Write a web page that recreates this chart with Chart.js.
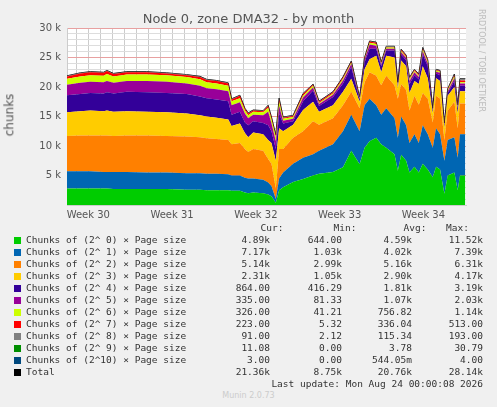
<!DOCTYPE html>
<html><head><meta charset="utf-8">
<script src="https://cdn.jsdelivr.net/npm/chart.js@4"></script>
<style>
body{margin:0;background:#f0f0f0;width:497px;height:407px;overflow:hidden;position:relative;font-family:"DejaVu Sans",sans-serif}
#c{position:absolute;left:0;top:0}
.t{position:absolute;color:#555}
.leg{position:absolute;font-family:"DejaVu Sans Mono",monospace;font-size:9.5px;color:#333;white-space:pre;line-height:12px}
.sq{position:absolute;width:7px;height:7px}
</style></head><body>
<canvas id="c" width="497" height="230"></canvas>
<div class="t" style="left:0;width:497px;top:11px;text-align:center;font-size:13px;color:#555">Node 0, zone DMA32 - by month</div>
<div class="t" style="left:-12px;top:108px;font-size:12px;transform:rotate(-90deg);">chunks</div>
<div class="t" style="left:430px;top:56px;font-size:8px;color:#bbb;transform:rotate(90deg);transform-origin:50% 50%;white-space:nowrap">RRDTOOL / TOBI OETIKER</div>
<div class="t" style="left:0;width:497px;top:391px;text-align:center;font-size:8px;color:#ccc">Munin 2.0.73</div>
<div id="legend"></div>
<script>
const times=[200,240,270,310,320,340,380,440,500,560,600,620,650,685,695,720,735,745,760,790,805,815,828,838,850,880,910,940,958,1000,1030,1055,1080,1095,1110,1130,1145,1160,1185,1195,1205,1220,1230,1245,1258,1270,1285,1300,1310,1322,1335,1345,1365,1375,1382,1398];
const s0=[2.8,2.8,2.8,2.8,2.8,2.7,2.7,2.7,2.7,2.6,2.6,2.5,2.5,2.5,2.4,2.4,2.1,2.0,2.1,2.0,1.8,1.5,0.4,2.5,3.0,3.9,4.4,5.0,5.3,5.6,6.4,9.2,6.9,9.7,10.8,11.4,10.3,9.7,8.6,5.8,8.5,7.5,5.5,6.5,5.5,7.0,6.0,4.7,6.5,6.0,1.9,5.0,5.5,2.5,5.0,5.0];
const s1=[2.9,2.9,2.9,2.8,2.8,2.9,2.9,2.8,2.8,2.8,2.8,2.8,2.8,2.7,2.6,2.6,2.5,2.5,2.4,2.3,2.0,1.7,0.6,2.0,2.5,3.1,3.6,3.6,3.9,4.7,6.1,6.1,5.6,7.2,7.2,5.5,5.0,6.7,6.1,5.6,6.5,6.0,5.0,5.5,5.0,6.5,6.0,5.0,6.5,6.0,5.6,6.0,6.0,5.5,7.0,7.0];
const s2=[6.0,6.1,6.1,6.2,6.2,6.1,6.2,6.3,6.2,6.2,6.1,6.0,5.9,5.8,5.3,5.5,4.9,4.5,5.0,4.9,4.0,3.8,1.8,5.0,4.0,4.4,4.5,5.6,4.4,4.4,4.4,3.9,3.9,3.9,4.5,5.0,5.0,5.5,5.6,6.6,5.5,6.0,5.5,6.5,6.5,5.5,6.0,4.3,5.5,6.0,3.5,5.0,6.0,5.0,5.2,5.2];
const s3=[4.0,4.1,4.2,4.1,4.2,4.1,4.1,4.0,4.0,3.9,3.7,3.7,3.6,3.5,3.1,3.3,2.7,2.5,2.8,2.8,3.2,3.5,4.7,3.5,3.0,2.2,3.6,3.3,2.2,2.2,2.3,2.2,1.1,2.2,2.2,3.4,2.2,3.4,4.7,1.7,4.0,4.0,3.0,2.5,3.5,4.5,3.5,1.5,3.0,3.0,2.0,2.5,2.5,2.5,2.1,2.1];
const s4=[2.9,2.9,3.0,3.0,3.1,3.1,3.3,3.3,3.3,3.3,3.2,3.1,3.1,3.1,1.9,2.0,1.8,2.0,1.9,1.9,2.5,2.0,2.0,2.5,1.3,0.6,1.5,1.9,1.0,1.4,1.4,2.0,0.4,1.2,1.8,1.2,1.0,0.9,1.2,0.6,1.0,1.0,1.5,1.0,0.8,2.0,2.0,0.5,0.8,1.0,0.5,0.5,1.0,0.8,0.9,0.9];
const s5=[1.8,1.9,1.9,1.9,1.9,1.8,1.8,1.9,1.9,1.8,1.8,1.7,1.7,1.7,1.6,1.6,1.5,1.2,1.1,1.3,2.3,1.3,1.3,1.3,0.5,0.4,0.6,0.5,0.3,0.4,0.5,0.5,0.1,0.4,0.7,0.5,0.3,0.3,0.3,0.2,0.4,0.4,0.5,0.5,0.4,0.5,0.5,0.2,0.3,0.4,0.2,0.3,0.5,0.3,0.4,0.4];
const s6=[1.0,1.1,1.1,1.1,1.2,1.1,1.1,1.1,1.1,1.1,1.1,1.0,1.0,0.9,0.7,0.7,0.5,0.5,0.5,0.5,0.7,0.7,0.7,0.7,0.3,0.3,0.3,0.3,0.2,0.2,0.3,0.2,0.1,0.2,0.3,0.3,0.2,0.2,0.2,0.1,0.2,0.2,0.3,0.2,0.2,0.3,0.3,0.1,0.2,0.2,0.1,0.2,0.3,0.2,0.2,0.2];
const s7=[0.4,0.5,0.5,0.5,0.5,0.4,0.4,0.4,0.3,0.3,0.4,0.4,0.4,0.4,0.3,0.4,0.3,0.3,0.2,0.2,0.3,0.3,0.3,0.4,0.2,0.2,0.3,0.2,0.2,0.2,0.2,0.2,0.1,0.1,0.2,0.2,0.1,0.1,0.1,0.1,0.2,0.2,0.2,0.2,0.2,0.2,0.2,0.1,0.1,0.1,0.1,0.1,0.2,0.1,0.3,0.3];
const s8=[0.1,0.1,0.1,0.1,0.1,0.1,0.1,0.1,0.1,0.1,0.1,0.1,0.1,0.1,0.1,0.1,0.1,0.1,0.1,0.1,0.1,0.1,0.1,0.2,0.1,0.1,0.1,0.1,0.1,0.1,0.1,0.1,0.1,0.1,0.1,0.1,0.1,0.1,0.1,0.1,0.1,0.1,0.1,0.1,0.1,0.2,0.1,0.0,0.1,0.1,0.0,0.1,0.2,0.1,0.3,0.3];
const total=[21.9,22.4,22.6,22.5,22.8,22.3,22.6,22.6,22.4,22.1,21.8,21.3,21.1,20.7,18.0,18.6,16.4,15.6,16.1,16.0,16.9,14.9,11.9,18.1,14.9,15.2,18.9,20.5,17.6,19.2,21.7,24.4,18.3,25.0,27.8,27.6,24.2,26.9,26.9,20.8,26.4,25.4,21.6,23.0,22.2,26.7,24.6,16.4,23.0,22.8,13.9,19.7,22.2,17.0,21.4,21.4];
const names=["Chunks of (2^ 0) × Page size","Chunks of (2^ 1) × Page size","Chunks of (2^ 2) × Page size","Chunks of (2^ 3) × Page size","Chunks of (2^ 4) × Page size","Chunks of (2^ 5) × Page size","Chunks of (2^ 6) × Page size","Chunks of (2^ 7) × Page size","Chunks of (2^ 8) × Page size","Chunks of (2^ 9) × Page size","Chunks of (2^10) × Page size","Total"];
const curV=["4.89k","7.17k","5.14k","2.31k","864.00","335.00","326.00","223.00","91.00","11.08","3.00","21.36k"];
const minV=["644.00","1.03k","2.99k","1.05k","416.29","81.33","41.21","5.32","2.12","0.00","0.00","8.75k"];
const avgV=["4.59k","4.02k","5.16k","2.90k","1.81k","1.07k","756.82","336.04","115.34","3.78","544.05m","20.76k"];
const maxV=["11.52k","7.39k","6.31k","4.17k","3.19k","2.03k","1.14k","513.00","193.00","30.79","4.00","28.14k"];
const weekLabels=["Week 30","Week 31","Week 32","Week 33","Week 34"];
const weekPos=[264,516,768,1020,1272];
const colors=["#00cc00","#0066b3","#ff8000","#ffcc00","#330099","#990099","#ccff00","#ff0000","#808080","#008f00","#00487d","#000000"];

const series=[s0,s1,s2,s3,s4,s5,s6,s7,s8];
const ds=series.map((s,i)=>({label:names[i],data:s.map((v,j)=>({x:times[j],y:v*1000})),backgroundColor:colors[i],borderWidth:0,pointRadius:0,fill:i===0?'origin':'-1',stack:'a',tension:0}));
ds.push({label:'Total',data:total.map((v,j)=>({x:times[j],y:v*1000})),borderColor:'#000',borderWidth:1,pointRadius:0,fill:false,stack:'b',tension:0});
const bg={id:'bg',beforeDraw(c){const a=c.chartArea,x=c.ctx;x.save();x.fillStyle='#fff';x.fillRect(a.left,a.top,a.right-a.left,a.bottom-a.top);x.restore();}};
new Chart(document.getElementById('c'),{type:'line',data:{datasets:ds},plugins:[bg],
options:{responsive:false,animation:false,events:[],layout:{padding:{top:28,right:31,left:0,bottom:0}},
plugins:{legend:{display:false},tooltip:{enabled:false}},
scales:{
x:{type:'linear',min:200,max:1400,afterFit(s){s.height=25;},
 afterBuildTicks(s){const t=[];for(let v=228;v<1400;v+=36)t.push({value:v});s.ticks=t;},
 grid:{color:'#ccc',lineWidth:1,tickLength:3,drawTicks:false},border:{display:true,color:'#ccc',dash:[]},
 ticks:{autoSkip:false,maxRotation:0,color:'#555',font:{family:'DejaVu Sans',size:10},padding:4,
  callback(v){const k=weekPos.indexOf(v);return k>=0?weekLabels[k]:'';}}},
y:{stacked:true,min:0,max:30000,afterFit(s){s.width=67;},
 afterBuildTicks(s){const t=[];for(let v=0;v<=30000;v+=1000)t.push({value:v});s.ticks=t;},
 grid:{color:c=>c.tick&&c.tick.value%5000===0?'#e8a0a0':'#ddd',drawTicks:false},border:{color:'#ccc'},
 ticks:{autoSkip:false,color:'#555',font:{family:'DejaVu Sans',size:10},padding:6,
  callback(v){return v%5000===0&&v>0?(v/1000)+' k':'';}}}}}});
// dashed grid via ctx tweak
Chart.defaults.borderDash=[1,2];
const L=document.getElementById('legend');
let h='<div class="leg" style="left:232px;top:222px">     Cur:</div><div class="leg" style="left:305px;top:222px">     Min:</div><div class="leg" style="left:375px;top:222px">     Avg:</div><div class="leg" style="left:446px;top:222px">Max:</div>';
names.forEach((n,i)=>{const y=234+12*i;
h+=`<div class="sq" style="left:14px;top:${y+3}px;background:${colors[i]}"></div>`;
h+=`<div class="leg" style="left:26px;top:${y}px">${n}</div>`;
[[curV,270],[minV,342],[avgV,412],[maxV,483]].forEach(([a,r])=>{h+=`<div class="leg" style="right:${497-r}px;top:${y}px;text-align:right">${a[i]}</div>`;});});
h+='<div class="leg" style="right:14px;top:378px">Last update: Mon Aug 24 00:00:08 2026</div>';
L.innerHTML=h;
</script></body></html>
